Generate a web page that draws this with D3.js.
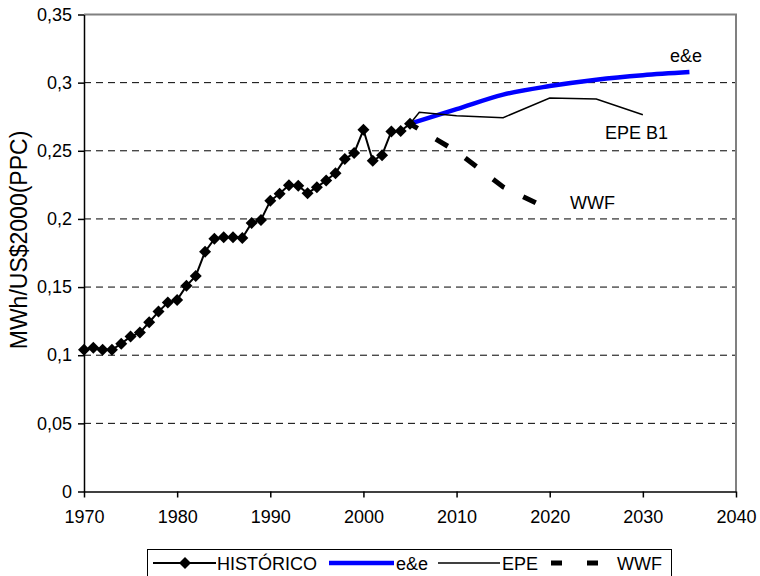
<!DOCTYPE html>
<html>
<head>
<meta charset="utf-8">
<script src="https://cdn.jsdelivr.net/npm/d3@7"></script>
<style>
  body { margin: 0; background: #fff; }
  svg { font-family: "Liberation Sans", Arial, sans-serif; }
</style>
</head>
<body>
<svg id="chart"></svg>
<script>
// historical series 1970-2005
const histYears = d3.range(1970, 2006);
const histValues = [
  0.104, 0.1055, 0.104, 0.104, 0.1085, 0.1137, 0.1166, 0.1242, 0.132, 0.1386,
  0.1406, 0.1509, 0.1582, 0.176, 0.1854, 0.1866, 0.1866, 0.186, 0.1971, 0.1993,
  0.2133, 0.2184, 0.2248, 0.2243, 0.2189, 0.2233, 0.2282, 0.2336, 0.2439, 0.2483,
  0.2654, 0.2427, 0.2468, 0.2642, 0.2645, 0.2698
];

// scenarios
const eeYears = [2005, 2010, 2015, 2020, 2025, 2030, 2035];
const eeValues = [0.2698, 0.2805, 0.2912, 0.2975, 0.3022, 0.3055, 0.3078];

const epeYears = [2005, 2006, 2010, 2015, 2020, 2025, 2030];
const epeValues = [0.2698, 0.2782, 0.2757, 0.2743, 0.2887, 0.288, 0.2764];

const wwfYears = [2005, 2010, 2015, 2020];
const wwfValues = [0.2698, 0.2495, 0.2235, 0.2068];

const xTicks = [1970, 1980, 1990, 2000, 2010, 2020, 2030, 2040];
const yTicks = [0, 0.05, 0.1, 0.15, 0.2, 0.25, 0.3, 0.35];
const yTickLabels = ["0", "0,05", "0,1", "0,15", "0,2", "0,25", "0,3", "0,35"];

const width = 760, height = 576;
const plotLeft = 84, plotRight = 736, plotTop = 14.5, plotBottom = 491.5;

const svg = d3.select("#chart")
  .attr("width", width)
  .attr("height", height);

const x = d3.scaleLinear().domain([1970, 2040]).range([plotLeft, plotRight]);
const y = d3.scaleLinear().domain([0, 0.35]).range([plotBottom, plotTop]);

// gridlines
svg.append("g")
  .selectAll("line")
  .data(yTicks.filter(d => d > 0 && d < 0.35))
  .enter().append("line")
  .attr("x1", plotLeft).attr("x2", plotRight)
  .attr("y1", d => y(d)).attr("y2", d => y(d))
  .attr("stroke", "#000")
  .attr("stroke-width", 1)
  .attr("stroke-dasharray", "7,5");

// plot frame top / right
svg.append("path")
  .attr("d", `M${plotLeft},${plotTop}H${plotRight}V${plotBottom}`)
  .attr("fill", "none")
  .attr("stroke", "#808080")
  .attr("stroke-width", 2);

// axes
const yAxis = d3.axisLeft(y)
  .tickValues(yTicks)
  .tickFormat((d, i) => yTickLabels[i])
  .tickSize(6)
  .tickSizeOuter(0)
  .tickPadding(6);

const xAxis = d3.axisBottom(x)
  .tickValues(xTicks)
  .tickFormat(d3.format("d"))
  .tickSize(6)
  .tickSizeOuter(0)
  .tickPadding(13);

svg.append("g")
  .attr("transform", `translate(${plotLeft},0)`)
  .call(yAxis)
  .call(g => g.selectAll("text").attr("font-size", 18).attr("fill", "#000"))
  .call(g => g.selectAll("line,path").attr("stroke", "#000").attr("stroke-width", 1.5));

svg.append("g")
  .attr("transform", `translate(0,${plotBottom})`)
  .call(xAxis)
  .call(g => g.selectAll("text").attr("font-size", 18).attr("fill", "#000"))
  .call(g => g.selectAll("line,path").attr("stroke", "#000").attr("stroke-width", 1.5));

svg.selectAll("g").attr("font-family", null);

// y title
svg.append("text")
  .attr("transform", "translate(27,240) rotate(-90)")
  .attr("text-anchor", "middle")
  .attr("font-size", 23)
  .text("MWh/US$2000(PPC)");

const line = d3.line().x(d => x(d[0])).y(d => y(d[1]));
const smooth = d3.line().x(d => x(d[0])).y(d => y(d[1])).curve(d3.curveMonotoneX);

const hist = histYears.map((d, i) => [d, histValues[i]]);
const ee = eeYears.map((d, i) => [d, eeValues[i]]);
const epe = epeYears.map((d, i) => [d, epeValues[i]]);
const wwf = wwfYears.map((d, i) => [d, wwfValues[i]]);

svg.append("path")
  .datum(wwf)
  .attr("d", line)
  .attr("fill", "none")
  .attr("stroke", "#000")
  .attr("stroke-width", 5)
  .attr("stroke-dasharray", "14,21")
  .attr("stroke-dashoffset", 5);

svg.append("path")
  .datum(ee)
  .attr("d", smooth)
  .attr("fill", "none")
  .attr("stroke", "#0000ff")
  .attr("stroke-width", 4.5);

svg.append("path")
  .datum(epe)
  .attr("d", line)
  .attr("fill", "none")
  .attr("stroke", "#000")
  .attr("stroke-width", 1.5);

svg.append("path")
  .datum(hist)
  .attr("d", line)
  .attr("fill", "none")
  .attr("stroke", "#000")
  .attr("stroke-width", 2);

const diamond = "M0,-6L6,0L0,6L-6,0Z";

svg.append("g")
  .selectAll("path")
  .data(hist)
  .enter().append("path")
  .attr("transform", d => `translate(${x(d[0])},${y(d[1])})`)
  .attr("d", diamond)
  .attr("fill", "#000");

// series labels at line ends
svg.append("text").attr("x", 670).attr("y", 62).attr("font-size", 18).text("e&e");
svg.append("text").attr("x", 605).attr("y", 139).attr("font-size", 18).text("EPE B1");
svg.append("text").attr("x", 570).attr("y", 209).attr("font-size", 18).text("WWF");

// legend
const ly = 563;
const legend = svg.append("g");
legend.append("rect")
  .attr("x", 147.5).attr("y", 549.5)
  .attr("width", 524).attr("height", 40)
  .attr("fill", "#fff")
  .attr("stroke", "#000")
  .attr("stroke-width", 1);

legend.append("line").attr("x1", 153).attr("x2", 216).attr("y1", ly).attr("y2", ly)
  .attr("stroke", "#000").attr("stroke-width", 2);
legend.append("path").attr("transform", `translate(185,${ly})`).attr("d", diamond).attr("fill", "#000");
legend.append("text").attr("x", 217).attr("y", ly + 6.5).attr("font-size", 18).text("HISTÓRICO");

legend.append("line").attr("x1", 329).attr("x2", 394).attr("y1", ly).attr("y2", ly)
  .attr("stroke", "#0000ff").attr("stroke-width", 4.5);
legend.append("text").attr("x", 396).attr("y", ly + 6.5).attr("font-size", 18).text("e&e");

legend.append("line").attr("x1", 438).attr("x2", 500).attr("y1", ly).attr("y2", ly)
  .attr("stroke", "#000").attr("stroke-width", 1.5);
legend.append("text").attr("x", 502).attr("y", ly + 6.5).attr("font-size", 18).text("EPE");

legend.append("line").attr("x1", 551).attr("x2", 598).attr("y1", ly).attr("y2", ly)
  .attr("stroke", "#000").attr("stroke-width", 5)
  .attr("stroke-dasharray", "11,25");
legend.append("text").attr("x", 617).attr("y", ly + 6.5).attr("font-size", 18).text("WWF");
</script>
</body>
</html>
